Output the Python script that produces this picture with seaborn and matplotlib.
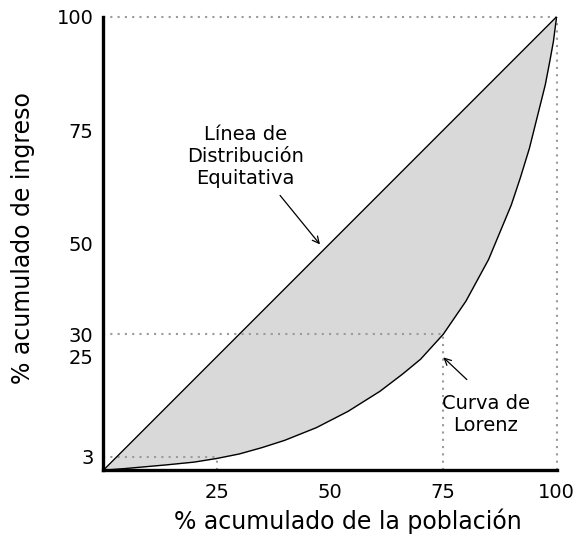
import matplotlib
matplotlib.use("Agg")
import matplotlib.pyplot as plt
import seaborn as sns
import pandas as pd

# Data
pop_equal = [0, 100]
inc_equal = [0, 100]
lorenz_x = [0, 5, 14, 20, 25, 30, 35, 40, 47, 54, 61, 66, 70, 75, 80, 85, 90, 92,
            94, 96, 97.5, 98.5, 99.3, 100]
lorenz_y = [0, 0.4, 1.2, 1.8, 2.6, 3.6, 5.0, 6.6, 9.4, 13.0, 17.4, 21.2, 24.5, 30,
            37.3, 46.5, 58.5, 64.5, 71, 79, 85, 90.2, 94.6, 100]
x_ticks = [25, 50, 75, 100]
y_ticks = [3, 25, 30, 50, 75, 100]
ref_x = [25, 75]
ref_y = [3, 30]

sns.set_theme(style="white")
plt.rcParams['font.family'] = ['DejaVu Sans']
plt.rcParams['text.color'] = 'black'

fig = plt.figure(figsize=(5.78, 5.40), dpi=100)
ax = fig.add_axes([0.1787, 0.1291, 0.7843, 0.8399])

df_l = pd.DataFrame({"x": lorenz_x, "y": lorenz_y})
df_e = pd.DataFrame({"x": pop_equal, "y": inc_equal})

# fill between diagonal and Lorenz curve
ax.fill_between(lorenz_x, lorenz_x, lorenz_y, color="#d9d9d9", lw=0, zorder=1)

sns.lineplot(data=df_e, x="x", y="y", ax=ax, color="black", lw=1.0, sort=False, zorder=3)
sns.lineplot(data=df_l, x="x", y="y", ax=ax, color="black", lw=1.0, sort=False, zorder=3)

dot = dict(color="#9a9a9a", lw=1.5, ls=(0, (1, 2.5)), clip_on=False, zorder=2)
ax.plot([0, 100], [100, 100], **dot)
ax.plot([100, 100], [0, 100], **dot)
for rx, ry in zip(ref_x, ref_y):
    ax.plot([0, rx], [ry, ry], **dot)
    ax.plot([rx, rx], [0, ry], **dot)

ax.set_xlim(0, 100)
ax.set_ylim(0, 100)
ax.set_xticks(x_ticks)
ax.set_yticks(y_ticks)
ax.set_xticklabels([str(t) for t in x_ticks], fontsize=14, color="black")
ax.set_yticklabels([str(t) for t in y_ticks], fontsize=14, color="black")
ax.tick_params(axis="x", length=0, pad=9)
ax.tick_params(axis="y", length=0, pad=7)
ax.set_xlabel("% acumulado de la población", fontsize=17, color="black")
ax.set_ylabel("% acumulado de ingreso", fontsize=17, color="black")
ax.xaxis.set_label_coords(0.54, -0.085)
ax.yaxis.set_label_coords(-0.151, 0.513)

for s in ["top", "right"]:
    ax.spines[s].set_visible(False)
for s in ["left", "bottom"]:
    ax.spines[s].set_linewidth(2.4)
    ax.spines[s].set_color("black")
    ax.spines[s].set_zorder(4)

arrow = dict(arrowstyle="->", color="black", lw=0.9, shrinkA=0, shrinkB=0)
ax.text(31.3, 69.2, "Línea de\nDistribución\nEquitativa", ha="center", va="center",
        fontsize=14, color="black")
ax.annotate("", xy=(47.8, 49.8), xytext=(39.0, 60.6), arrowprops=arrow)
ax.annotate("", xy=(75, 24.9), xytext=(80.2, 20.0), arrowprops=arrow)
ax.text(84.4, 12.4, "Curva de\nLorenz", ha="center", va="center", fontsize=14, color="black")

fig.savefig("out.png", dpi=100)
